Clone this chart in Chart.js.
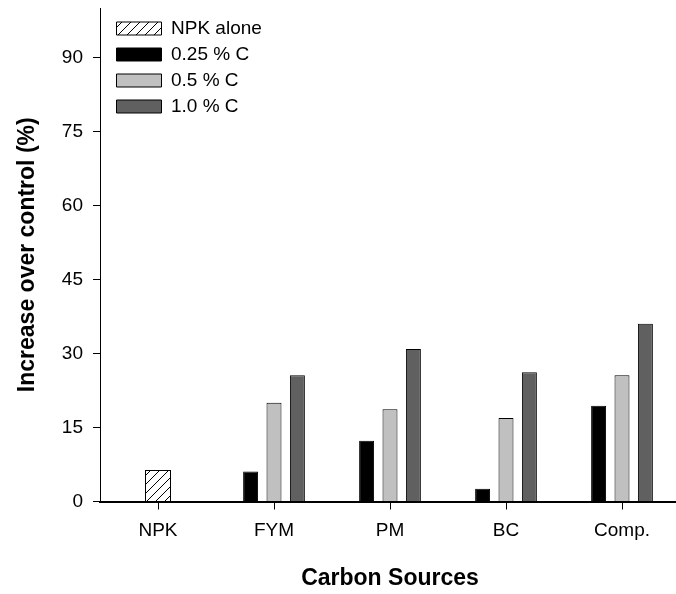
<!DOCTYPE html>
<html>
<head>
<meta charset="utf-8">
<script src="https://cdn.jsdelivr.net/npm/chart.js@4.4.0/dist/chart.umd.min.js"></script>
<style>
  html, body { margin: 0; padding: 0; background: #fff; overflow: hidden; }
</style>
</head>
<body>
<canvas id="myChart" width="680" height="594"></canvas>
<script>
const categories = ["NPK", "FYM", "PM", "BC", "Comp."];
const npkAlone = [6.4, null, null, null, null];
const c025 = [null, 6.1, 12.3, 2.6, 19.4];
const c05 = [null, 20.0, 18.7, 16.9, 25.6];
const c10 = [null, 25.6, 30.9, 26.2, 36.0];
const yTicks = [0, 15, 30, 45, 60, 75, 90];

// diagonal hatch used for the "NPK alone" bar
function hatch() {
  const c = document.createElement('canvas');
  c.width = 9; c.height = 9;
  const g = c.getContext('2d');
  g.fillStyle = '#fff';
  g.fillRect(0, 0, 9, 9);
  g.strokeStyle = '#000';
  g.lineWidth = 1;
  g.beginPath();
  g.moveTo(0, 9); g.lineTo(9, 0);
  g.moveTo(-1, 1); g.lineTo(1, -1);
  g.moveTo(8, 10); g.lineTo(10, 8);
  g.stroke();
  return g.createPattern(c, 'repeat');
}

// put the legend in the upper left corner of the plot
const legendPlace = {
  id: 'legendPlace',
  afterLayout(chart) {
    const lg = chart.legend;
    lg.left = chart.chartArea.left + 9.5;
    lg.top = chart.chartArea.top + 4;
    lg.bottom = chart.chartArea.bottom;
  }
};

Chart.defaults.font.family = "'Liberation Sans', Arial, sans-serif";
Chart.defaults.font.size = 19;
Chart.defaults.color = '#000';

new Chart(document.getElementById('myChart'), {
  type: 'bar',
  data: {
    labels: categories,
    datasets: [
      { label: 'NPK alone', data: npkAlone, backgroundColor: hatch(), borderColor: '#000', borderWidth: 1, maxBarThickness: 26 },
      { label: '0.25 % C', data: c025, backgroundColor: '#000000', borderColor: '#000', borderWidth: 1 },
      { label: '0.5 % C', data: c05, backgroundColor: '#c0c0c0', borderColor: '#000', borderWidth: 1 },
      { label: '1.0 % C', data: c10, backgroundColor: '#606060', borderColor: '#000', borderWidth: 1 }
    ]
  },
  options: {
    responsive: false,
    animation: false,
    layout: { padding: { top: 8, left: 0, right: 0, bottom: 0 } },
    datasets: {
      bar: { skipNull: true, categoryPercentage: 0.605, barPercentage: 0.64 }
    },
    scales: {
      x: {
        offset: true,
        grid: { offset: false, drawOnChartArea: false, drawTicks: true, tickLength: 8, color: '#000' },
        border: { color: '#000', width: 2 },
        ticks: { padding: 10 },
        title: {
          display: true,
          text: 'Carbon Sources',
          font: { size: 23, weight: 'bold' },
          padding: { top: 0, bottom: 2 }
        },
        afterFit(s) { s.height = 92.5; s.paddingLeft = 0; s.paddingRight = 0; }
      },
      y: {
        min: 0,
        max: 100,
        afterBuildTicks(s) { s.ticks = yTicks.map(v => ({ value: v })); },
        grid: { drawOnChartArea: false, drawTicks: true, tickLength: 7, color: '#000' },
        border: { color: '#000', width: 1 },
        ticks: { padding: 10 },
        title: {
          display: true,
          text: 'Increase over control (%)',
          font: { size: 23, weight: 'bold' },
          padding: { top: 14, bottom: 0 }
        },
        afterFit(s) { s.width = 100; s.paddingTop = 0; s.paddingBottom = 0; }
      }
    },
    plugins: {
      legend: {
        position: 'chartArea',
        align: 'start',
        labels: { boxWidth: 45, boxHeight: 13, padding: 7, font: { size: 19 }, color: '#000' }
      },
      tooltip: { enabled: false }
    }
  },
  plugins: [legendPlace]
});
</script>
</body>
</html>
